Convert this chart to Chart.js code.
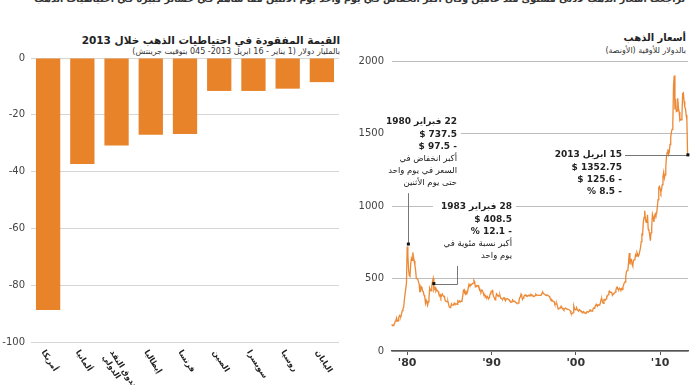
<!DOCTYPE html>
<html lang="ar">
<head>
<meta charset="utf-8">
<script src="https://cdn.jsdelivr.net/npm/chart.js@4.4.0/dist/chart.umd.min.js"></script>
<style>
    body { margin: 0; width: 690px; height: 385px; background: #fff; position: relative; overflow: hidden; font-family: 'DejaVu Sans', sans-serif; color: #222; }
    .texto { position: absolute; direction: rtl; text-align: right; white-space: nowrap; }
    #topo { top: -7px; right: 5px; font-size: 9.5px; font-weight: bold; color: #333; }
    #titulo_perdas { top: 34px; right: 350px; font-size: 10.5px; font-weight: bold; }
    #sub_perdas { top: 47px; right: 350px; font-size: 8px; color: #333; }
    #titulo_ouro { top: 32px; right: 4px; font-size: 10px; font-weight: bold; }
    #sub_ouro { top: 46px; right: 4px; font-size: 8px; color: #333; }
    canvas { position: absolute; }
    #grafico_perdas { left: 0; top: 40px; }
    #grafico_ouro { left: 350px; top: 40px; }
</style>
</head>
<body>
<div class="texto" id="topo">تراجعت أسعار الذهب لأدنى مستوى منذ عامين وكان أكبر انخفاض في يوم واحد يوم الأثنين مما ساهم في خسائر كبيرة في احتياطيات الذهب</div>
<div class="texto" id="titulo_perdas">القيمة المفقودة في احتياطيات الذهب خلال 2013</div>
<div class="texto" id="sub_perdas">بالمليار دولار (1 يناير - 16 ابريل 2013- 045 بتوقيت جرينتش)</div>
<div class="texto" id="titulo_ouro">أسعار الذهب</div>
<div class="texto" id="sub_ouro">بالدولار للأوقية (الأونصة)</div>
<canvas id="grafico_perdas" width="345" height="345"></canvas>
<canvas id="grafico_ouro" width="340" height="345"></canvas>
<script>
// valores perdidos (bilhoes de dolares)
const paises = ['أمريكا', 'ألمانيا', ['صندوق النقد', 'الدولي'], 'إيطاليا', 'فرنسا', 'الصين', 'سويسرا', 'روسيا', 'اليابان']
const perdas = [-88.7, -37.3, -30.8, -27.0, -26.8, -11.6, -11.6, -10.8, -8.5]
const perdasTicks = [0, -20, -40, -60, -80, -100]

// preco do ouro, media mensal, a partir de jan 1978
const anoInicial = 1978
const ouro1978 = [173, 179, 184, 175, 176, 183, 188, 206, 212, 228, 206, 208,
    228, 245, 242, 239, 257, 279, 295, 301, 355, 392, 392, 470]
const ouro1980 = [720, 660, 560, 520, 515, 600, 640, 625, 680, 650, 620, 590,
    557, 500, 499, 495, 480, 460, 409, 410, 443, 437, 413, 410,
    384, 374, 330, 350, 334, 315, 339, 364, 435, 422, 414, 444,
    481, 500, 420, 432, 438, 413, 423, 416, 411, 394, 382, 388,
    370, 386, 394, 381, 377, 378, 348, 348, 341, 340, 341, 320,
    303, 299, 304, 325, 316, 317, 317, 330, 323, 326, 325, 322,
    345, 339, 346, 340, 342, 343, 348, 376, 418, 423, 398, 391,
    408, 401, 409, 438, 460, 450, 450, 461, 460, 465, 468, 487,
    477, 442, 444, 452, 451, 452, 437, 433, 413, 406, 420, 419,
    404, 388, 390, 384, 371, 368, 375, 365, 362, 367, 394, 409]
const ouro1990 = [410, 417, 393, 374, 369, 352, 362, 395, 389, 381, 381, 378,
    384, 364, 363, 358, 357, 367, 368, 356, 349, 359, 360, 361,
    354, 354, 345, 338, 337, 341, 353, 343, 345, 344, 335, 334,
    329, 330, 330, 342, 367, 372, 392, 379, 355, 365, 374, 383,
    387, 382, 384, 377, 381, 385, 385, 380, 391, 389, 384, 379,
    379, 377, 382, 391, 385, 387, 386, 383, 383, 383, 386, 387,
    400, 405, 396, 393, 392, 385, 383, 387, 383, 381, 378, 369,
    355, 346, 352, 344, 344, 341, 324, 324, 323, 325, 306, 289,
    289, 297, 296, 308, 299, 292, 293, 284, 289, 296, 294, 291,
    287, 287, 286, 282, 277, 262, 256, 257, 265, 311, 293, 283]
const ouro2000 = [284, 300, 286, 280, 275, 286, 282, 274, 273, 270, 266, 272,
    266, 262, 263, 261, 272, 270, 268, 273, 283, 283, 276, 275,
    282, 296, 294, 302, 314, 322, 314, 310, 319, 317, 319, 333,
    357, 359, 340, 328, 355, 356, 351, 360, 379, 379, 389, 407,
    414, 405, 406, 404, 384, 392, 398, 400, 406, 420, 439, 442,
    424, 423, 434, 429, 422, 431, 424, 438, 456, 470, 476, 510,
    549, 555, 557, 610, 676, 596, 633, 632, 598, 585, 627, 629,
    631, 665, 655, 679, 667, 655, 665, 665, 712, 754, 806, 803,
    889, 922, 968, 909, 888, 889, 939, 839, 829, 806, 760, 816,
    858, 943, 924, 890, 928, 946, 934, 949, 996, 1043, 1127, 1135]
const ouro2010 = [1118, 1095, 1113, 1148, 1205, 1233, 1193, 1215, 1271, 1343, 1370, 1391,
    1356, 1372, 1424, 1474, 1510, 1529, 1572, 1830, 1900, 1665, 1739, 1652,
    1656, 1743, 1675, 1649, 1591, 1598, 1594, 1631, 1775, 1780, 1722, 1684,
    1671, 1627, 1593, 1352.75]

const anosTicks = [1980, 1990, 2000, 2010]
const anosLabels = ["'80", "'90", "'00", "'10"]
const ouroTicks = [0, 500, 1000, 1500, 2000]

// pontos marcados
const marcosAno = [1980.14, 1983.16, 2013.29]
const marcosPreco = [737.5, 465, 1352.75]
const marcosTexto = [
    ['22 فبراير 1980', '737.5 $', '- 97.5 $', 'أكبر انخفاض في', 'السعر في يوم واحد', 'حتى يوم الأثنين'],
    ['28 فبراير 1983', '408.5 $', '- 12.1 %', 'أكبر نسبة مئوية في', 'يوم واحد'],
    ['15 ابريل 2013', '1352.75 $', '- 125.6 $', '- 8.5 %']
]

const fonte = "'DejaVu Sans'"

const ouro = [...ouro1978, ...ouro1980, ...ouro1990, ...ouro2000, ...ouro2010]
    .map((v, i) => ({ x: anoInicial + i / 12, y: v }))

// rotulos girados embaixo das barras
const rotulosPaises = {
    id: 'rotulosPaises',
    afterDraw(chart) {
        const ctx = chart.ctx
        const escalaX = chart.scales.x
        ctx.save()
        ctx.font = `bold 8px ${fonte}`
        ctx.fillStyle = '#222'
        ctx.direction = 'rtl'
        ctx.textAlign = 'left'
        ctx.textBaseline = 'middle'
        paises.forEach((p, i) => {
            const linhas = Array.isArray(p) ? p : [p]
            ctx.save()
            ctx.translate(escalaX.getPixelForValue(i) - 5, chart.chartArea.bottom + 9)
            ctx.rotate(Math.PI * 0.32)
            linhas.forEach((l, j) => ctx.fillText(l, 0, j * 9))
            ctx.restore()
        })
        ctx.restore()
    }
}

// textos das anotacoes e linhas guia
const anotacoes = {
    id: 'anotacoes',
    afterDatasetsDraw(chart) {
        const ctx = chart.ctx
        const ex = chart.scales.x
        const ey = chart.scales.y
        const area = chart.chartArea
        const caixas = [
            { dir: 107, topo: 82, esq: area.left - 2 },
            { dir: 162, topo: 167, esq: null, guia: 107 },
            { dir: 272, topo: 115, esq: null }
        ]
        const entrelinha = 12.2
        const fonteLinha = (l, j) => (j < 4 && /\d/.test(l)) ? `bold 9px ${fonte}` : `8.5px ${fonte}`
        ctx.save()
        ctx.direction = 'rtl'
        ctx.textAlign = 'right'
        ctx.textBaseline = 'middle'

        marcosTexto.forEach((linhas, k) => {
            const c = caixas[k]
            let larg = 0
            linhas.forEach((l, j) => {
                ctx.font = fonteLinha(l, j)
                larg = Math.max(larg, ctx.measureText(l).width)
            })
            const esq = c.esq !== null ? c.esq : c.dir - larg - 8
            ctx.fillStyle = '#fff'
            ctx.fillRect(esq, c.topo - 7, c.dir + 4 - esq, linhas.length * entrelinha + 2)
            ctx.fillStyle = '#222'
            linhas.forEach((l, j) => {
                ctx.font = fonteLinha(l, j)
                ctx.fillText(l, c.dir, c.topo + j * entrelinha)
            })
        })

        const px = marcosAno.map(a => ex.getPixelForValue(a))
        const py = marcosPreco.map(p => ey.getPixelForValue(p))
        ctx.strokeStyle = '#777'
        ctx.lineWidth = 1
        ctx.beginPath()
        // 1980: vertical
        ctx.moveTo(Math.round(px[0]) + 0.5, caixas[0].topo + marcosTexto[0].length * entrelinha - 2)
        ctx.lineTo(Math.round(px[0]) + 0.5, py[0])
        // 1983: horizontal e sobe
        ctx.moveTo(px[1], Math.round(py[1]) + 0.5)
        ctx.lineTo(caixas[1].guia + 0.5, Math.round(py[1]) + 0.5)
        ctx.lineTo(caixas[1].guia + 0.5, caixas[1].topo + marcosTexto[1].length * entrelinha - 2)
        // 2013: horizontal
        ctx.moveTo(caixas[2].dir + 3, Math.round(py[2]) + 0.5)
        ctx.lineTo(px[2], Math.round(py[2]) + 0.5)
        ctx.stroke()

        ctx.fillStyle = '#111'
        px.forEach((x, i) => ctx.fillRect(x - 1.5, py[i] - 1.5, 3, 3))
        ctx.restore()
    }
}

new Chart(document.getElementById('grafico_perdas'), {
    type: 'bar',
    data: {
        labels: paises,
        datasets: [{
            data: perdas,
            backgroundColor: '#e8832a',
            categoryPercentage: 1,
            barPercentage: 0.71
        }]
    },
    options: {
        responsive: false,
        animation: false,
        layout: { padding: { top: 18, right: 6, bottom: 35, left: 0 } },
        plugins: { legend: { display: false }, tooltip: { enabled: false } },
        scales: {
            x: {
                grid: { display: false },
                border: { display: false },
                ticks: { display: false }
            },
            y: {
                min: -100,
                max: 0,
                afterBuildTicks: s => { s.ticks = perdasTicks.map(v => ({ value: v })) },
                afterFit: s => { s.width = 31 },
                ticks: { color: '#444', font: { family: fonte, size: 10 }, padding: 6, callback: v => String(v) },
                grid: { color: '#d6d6d6', drawTicks: false },
                border: { display: false }
            }
        }
    },
    plugins: [rotulosPaises]
})

new Chart(document.getElementById('grafico_ouro'), {
    type: 'line',
    data: {
        datasets: [{
            data: ouro,
            borderColor: '#ec8935',
            borderWidth: 1.3,
            pointRadius: 0,
            tension: 0,
            clip: false
        }]
    },
    options: {
        responsive: false,
        animation: false,
        layout: { padding: { top: 21, right: 2, bottom: 0, left: 0 } },
        plugins: { legend: { display: false }, tooltip: { enabled: false } },
        scales: {
            x: {
                type: 'linear',
                min: 1978.2,
                max: 2013.3,
                afterBuildTicks: s => { s.ticks = anosTicks.map(v => ({ value: v })) },
                afterFit: s => { s.height = 34 },
                ticks: {
                    autoSkip: false,
                    maxRotation: 0,
                    padding: 2,
                    color: '#333',
                    font: { family: fonte, size: 11, weight: 'bold' },
                    callback: v => anosLabels[anosTicks.indexOf(v)]
                },
                grid: { drawOnChartArea: false, tickLength: 4, color: '#555' },
                border: { color: '#555', width: 1.5 }
            },
            y: {
                min: 0,
                max: 2000,
                afterBuildTicks: s => { s.ticks = ouroTicks.map(v => ({ value: v })) },
                afterFit: s => { s.width = 42 },
                ticks: { color: '#444', font: { family: fonte, size: 10 }, padding: 8, callback: v => String(v) },
                grid: { color: '#bdbdbd', drawTicks: false },
                border: { display: false }
            }
        }
    },
    plugins: [anotacoes]
})
</script>
</body>
</html>
